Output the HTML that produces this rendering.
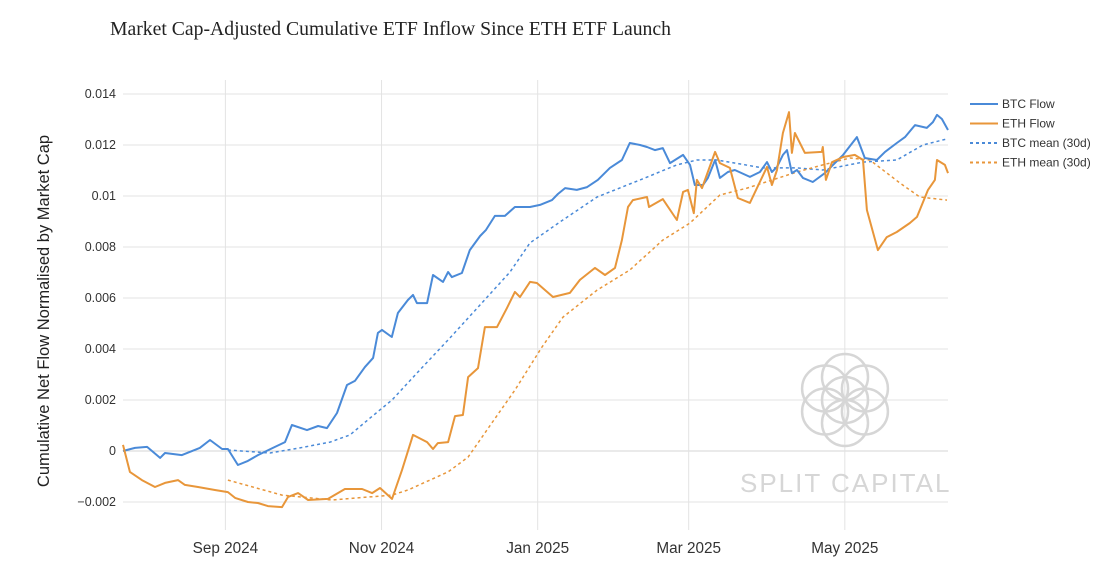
<!DOCTYPE html>
<html><head><meta charset="utf-8"><style>
html,body{margin:0;padding:0;background:#fff;width:1120px;height:581px;overflow:hidden}
svg{display:block;font-family:"Liberation Sans",sans-serif}
</style></head><body>
<svg id="chart" width="1120" height="581" xmlns="http://www.w3.org/2000/svg">
<text x="110" y="35" font-family="Liberation Serif, serif" font-size="19.7" fill="#222">Market Cap-Adjusted Cumulative ETF Inflow Since ETH ETF Launch</text>
<g id="grid"></g>
<g id="watermark" opacity="1">
</g>
<g id="series"></g>
<g id="axes"></g>
<text transform="translate(49,311) rotate(-90)" text-anchor="middle" font-size="16.5" fill="#222">Cumulative Net Flow Normalised by Market Cap</text>
<g id="legend"></g>
</svg>
<script>
// days since 2024-07-23 ; values in units of 1e-3
const btcDays=[0,4.7,9.4,14.5,16.4,23,30,34,38.7,41,44.9,48.8,52.7,59.4,63.3,66,71.9,76.2,79.7,83.6,87.5,90.6,94.5,97.7,99.6,101.2,105,107.4,111.3,113.3,114.8,118.8,121.1,125,127,128.5,132.4,135.5,139.5,141.8,145.3,149.2,153.1,157,159,162.9,167.6,169.9,172.7,177.3,181.3,185.5,190.2,194.9,198,202,204.7,207.8,210.9,213.7,218.8,221.5,223.4,226.6,228.5,231.3,233.2,236.3,239,244.9,248.8,251.6,253.5,255.5,257.8,259.4,261.3,263.3,265.6,269.5,274.2,278.1,281.3,286.7,289.8,294.5,297.7,302.3,305.5,309.4,314,316.4,318,319.9,322.3];
const btcValues=[0,.12,.16,-.27,-.08,-.16,.12,.43,.08,.08,-.55,-.39,-.16,.16,.35,1.02,.82,.98,.90,1.49,2.59,2.75,3.29,3.65,4.63,4.75,4.47,5.41,5.92,6.12,5.80,5.80,6.90,6.63,7.02,6.82,6.98,7.88,8.43,8.67,9.22,9.22,9.57,9.57,9.57,9.65,9.84,10.08,10.31,10.24,10.35,10.63,11.10,11.41,12.08,12.0,11.92,11.80,11.88,11.29,11.61,11.22,10.43,10.43,10.71,11.41,10.71,10.94,11.02,10.75,10.94,11.33,10.94,11.14,11.61,11.80,10.90,11.02,10.71,10.55,10.90,11.29,11.61,12.31,11.49,11.41,11.73,12.08,12.31,12.78,12.67,12.90,13.18,13.02,12.59];
const ethDays=[0,2.7,7.4,12.5,16.4,21.5,24.2,29.3,35.9,41,43.8,48.8,52.7,56.6,62.1,64.5,68.4,72.3,80.1,86.7,93.4,97.3,100.4,105.1,109,113.3,118.8,121.1,123,127,129.7,132.8,134.8,138.7,141.4,146.1,150,153.1,155.1,159,161.7,168,174.6,178.5,184.4,188.3,192.2,194.9,197.3,199.2,204.7,205.5,210.9,216.4,218.8,220.7,223,224.2,226.2,231.3,233.2,237.1,240.2,244.9,251.6,253.5,255.5,257.8,260.2,261.3,262.5,266.4,273,273.4,274.6,277,281.3,285.9,289.1,290.6,294.9,298.4,302.3,307.4,310.2,314.5,317.2,318,321.1,322.3];
const ethValues=[.24,-.82,-1.14,-1.41,-1.25,-1.14,-1.33,-1.41,-1.53,-1.61,-1.84,-2.0,-2.04,-2.16,-2.20,-1.80,-1.65,-1.92,-1.88,-1.49,-1.49,-1.65,-1.45,-1.88,-.75,.63,.35,.08,.31,.35,1.37,1.41,2.90,3.25,4.86,4.86,5.61,6.24,6.04,6.63,6.59,6.04,6.20,6.71,7.18,6.90,7.18,8.27,9.57,9.84,9.96,9.57,9.88,9.06,10.16,10.24,9.33,10.63,10.31,11.73,11.29,11.10,9.92,9.73,11.14,10.43,11.02,12.47,13.29,11.69,12.47,11.69,11.73,11.92,10.63,11.33,11.53,11.61,11.41,9.45,7.88,8.39,8.59,8.94,9.18,10.24,10.63,11.41,11.22,10.90];
const btcMeanDays=[41,57.4,69.1,80.9,88.7,96.5,105.1,116,127.7,139.5,151.2,159,170.7,185.2,202,216.4,224.2,232,250,263.3,273.4,289.1,302.3,312.5,321.9];
const btcMeanValues=[.04,-.08,.12,.35,.63,1.29,2.0,3.18,4.43,5.73,7.02,8.16,8.98,9.96,10.63,11.22,11.41,11.41,11.10,11.10,11.02,11.33,11.41,12.0,12.24];
const ethMeanDays=[41,62.1,81.6,105.1,111.3,127,134.8,144.1,153.1,163.7,171.9,185.2,198,210.9,221.5,233.2,243.8,263.3,273.4,284,291.8,303.5,311.3,321.9];
const ethMeanValues=[-1.14,-1.73,-1.92,-1.73,-1.53,-.82,-.24,1.10,2.39,4.08,5.25,6.31,7.10,8.27,8.94,10.04,10.31,10.94,11.22,11.49,11.41,10.51,9.96,9.84];
const yTicks=[14,12,10,8,6,4,2,0,-2];
const yTickLabels=["0.014","0.012","0.01","0.008","0.006","0.004","0.002","0","−0.002"];
const xTickDays=[40,101,162,221,282];
const xTickLabels=["Sep 2024","Nov 2024","Jan 2025","Mar 2025","May 2025"];

const NS="http://www.w3.org/2000/svg";
const X0=123,X1=948,DMAX=322.3;
function xs(d){return X0+(X1-X0)*d/DMAX;}
function ys(v){return 451-25.5*v;}
function mk(tag,attrs,parent){const e=document.createElementNS(NS,tag);for(const k in attrs)e.setAttribute(k,attrs[k]);parent.appendChild(e);return e;}
const grid=document.getElementById('grid'),axes=document.getElementById('axes'),series=document.getElementById('series'),legend=document.getElementById('legend'),wm=document.getElementById('watermark');
yTicks.forEach((t,i)=>{
  const l=mk('line',{x1:X0,x2:X1,y1:ys(t),y2:ys(t),stroke:t===0?'#d4d4d4':'#e3e3e3','stroke-width':1},grid);
  
  
  const tx=mk('text',{x:116,y:ys(t)+4,'text-anchor':'end','font-size':12.5,fill:'#333'},axes);
  tx.textContent=yTickLabels[i];
  
  
});
xTickDays.forEach((d,i)=>{
  const l=mk('line',{x1:xs(d),x2:xs(d),y1:80,y2:530,stroke:'#e3e3e3','stroke-width':1},grid);
  
  
  const tx=mk('text',{x:xs(d),y:553,'text-anchor':'middle','font-size':15.3,fill:'#333'},axes);
  tx.textContent=xTickLabels[i];
  
  
});
// watermark
const cx=845,cy=400,r=23;
for(let k=0;k<7;k++){
  const a=k*Math.PI/3+Math.PI/2;
  const px=k<6?cx+r*Math.cos(a):cx, py=k<6?cy-r*Math.sin(a):cy;
  const c=mk('circle',{cx:px,cy:py,r:r,fill:'none',stroke:'#d6d6d6','stroke-width':2.5},wm);
  
  
}
const wt=mk('text',{x:740,y:492,'font-size':26,fill:'#d6d6d6','letter-spacing':'2'},wm);
wt.textContent='SPLIT CAPITAL';



function line(days,vals,color,dash,name,w){
  const d=days.map((t,i)=>(i?'L':'M')+xs(t).toFixed(1)+','+ys(vals[i]).toFixed(1)).join('');
  const p=mk('path',{d:d,fill:'none',stroke:color,'stroke-width':w,'stroke-dasharray':dash,'stroke-linejoin':'round'},series);
  
  
}
line(btcMeanDays,btcMeanValues,'#4a8ad8','3,3','btc-mean-line',1.5);
line(ethMeanDays,ethMeanValues,'#e8963a','3,3','eth-mean-line',1.5);
line(btcDays,btcValues,'#4a8ad8','none','btc-flow-line',2);
line(ethDays,ethValues,'#e8963a','none','eth-flow-line',2);

const leg=[["BTC Flow","#4a8ad8","none"],["ETH Flow","#e8963a","none"],["BTC mean (30d)","#4a8ad8","3,3"],["ETH mean (30d)","#e8963a","3,3"]];
leg.forEach((e,i)=>{
  const y=104+i*19.5;
  const g=mk('g',{},legend);
  
  
  mk('line',{x1:970,x2:998,y1:y,y2:y,stroke:e[1],'stroke-width':2,'stroke-dasharray':e[2]},g);
  const t=mk('text',{x:1002,y:y+4,'font-size':12,fill:'#333'},g);
  t.textContent=e[0];
});
</script>
</body></html>
